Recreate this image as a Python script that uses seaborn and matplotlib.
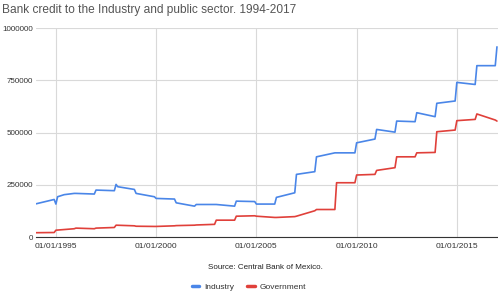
import pandas as pd
import numpy as np
import matplotlib
matplotlib.use('Agg')
import matplotlib.pyplot as plt
from matplotlib.lines import Line2D
from matplotlib.ticker import FixedLocator, FuncFormatter
import seaborn as sns

# Values (pesos, millions); monthly points where the line bends
industry_dates = ['1994-01', '1994-12', '1995-01', '1995-02', '1995-06', '1995-12',
                  '1996-01', '1996-12', '1997-01', '1997-12', '1998-01', '1998-02', '1998-12',
                  '1999-01', '1999-12', '2000-01', '2000-12', '2001-01', '2001-12',
                  '2002-01', '2002-12', '2003-01', '2003-12', '2004-01', '2004-12',
                  '2005-01', '2005-12', '2006-01', '2006-12', '2007-01', '2007-12',
                  '2008-01', '2008-12', '2009-01', '2009-12', '2010-01', '2010-12',
                  '2011-01', '2011-12', '2012-01', '2012-12', '2013-01', '2013-12',
                  '2014-01', '2014-12', '2015-01', '2015-12', '2016-01', '2016-12', '2017-01']
industry = [159000, 180000, 158000, 193000, 203000, 209000,
            209000, 206000, 225000, 222000, 252000, 241000, 228000,
            209000, 193000, 185000, 182000, 164000, 148000,
            156000, 156000, 156000, 148000, 172000, 170000,
            158000, 158000, 190000, 212000, 300000, 313000,
            384000, 403000, 403000, 403000, 451000, 469000,
            515000, 502000, 555000, 552000, 595000, 576000,
            640000, 651000, 740000, 730000, 820000, 820000, 910000]

gov_dates = ['1994-01', '1994-12', '1995-01', '1995-12', '1996-01', '1996-12',
             '1997-01', '1997-12', '1998-01', '1998-12', '1999-01', '1999-12',
             '2000-01', '2000-12', '2001-01', '2001-12', '2002-01', '2002-12',
             '2003-01', '2003-12', '2004-01', '2004-12', '2005-01', '2005-12',
             '2006-01', '2006-12', '2007-01', '2007-12', '2008-01', '2008-12',
             '2009-01', '2009-12', '2010-01', '2010-12', '2011-01', '2011-12',
             '2012-01', '2012-12', '2013-01', '2013-12', '2014-01', '2014-12',
             '2015-01', '2015-12', '2016-01', '2016-12', '2017-01']
government = [21000, 22000, 33000, 40000, 43000, 40000,
              43000, 46000, 57000, 54000, 52000, 51000,
              51000, 54000, 55000, 57000, 58000, 61000,
              81000, 81000, 100000, 102000, 100000, 94000,
              94000, 98000, 100000, 126000, 132000, 132000,
              260000, 260000, 297000, 300000, 319000, 332000,
              384000, 384000, 403000, 405000, 504000, 512000,
              557000, 563000, 589000, 560000, 555000]

series_names = ['Industry', 'Government']
colors = ['#4a86e8', '#e0403a']

df = pd.concat([
    pd.DataFrame({'date': pd.to_datetime(industry_dates), 'value': industry, 'series': 'Industry'}),
    pd.DataFrame({'date': pd.to_datetime(gov_dates), 'value': government, 'series': 'Government'}),
], ignore_index=True)

sns.set_style('white')
plt.rcParams['font.family'] = ['Liberation Sans', 'DejaVu Sans']

fig = plt.figure(figsize=(4.98, 2.92), dpi=100)
ax = fig.add_axes([0.072, 0.188, 0.928, 0.716])

sns.lineplot(data=df, x='date', y='value', hue='series', hue_order=series_names,
             palette=colors, linewidth=1.2, legend=False, ax=ax)

ax.set_xlim(pd.Timestamp('1994-01-01'), pd.Timestamp('2017-01-20'))
ax.set_ylim(0, 1000000)
ax.yaxis.set_major_locator(FixedLocator([0, 250000, 500000, 750000, 1000000]))
ax.yaxis.set_major_formatter(FuncFormatter(lambda v, p: f'{int(v)}'))
xt = [pd.Timestamp(f'{y}-01-01') for y in [1995, 2000, 2005, 2010, 2015]]
ax.set_xticks(xt)
ax.set_xticklabels([t.strftime('%d/%m/%Y') for t in xt])

ax.grid(True, color='#d9d9d9', linewidth=0.8)
ax.set_axisbelow(True)
for s in ['top', 'right', 'left']:
    ax.spines[s].set_visible(False)
ax.spines['bottom'].set_color('#333333')
ax.spines['bottom'].set_linewidth(0.8)
ax.tick_params(axis='both', length=0, colors='#333333', labelsize=6)
ax.tick_params(axis='y', pad=2, labelsize=5.8)
ax.tick_params(axis='x', pad=4)
ax.set_xlabel('')
ax.set_ylabel('')

fig.text(0.004, 0.965, 'Bank credit to the Industry and public sector. 1994-2017',
         fontsize=8.6, color='#555555', ha='left', va='center')
fig.text(0.534, 0.085, 'Source: Central Bank of Mexico.', fontsize=5.8,
         color='#222222', ha='center', va='center')

handles = [Line2D([0], [0], color=c, linewidth=2.5) for c in colors]
fig.legend(handles, series_names, loc='center', bbox_to_anchor=(0.5, 0.018),
           ncol=2, frameon=False, fontsize=6, handlelength=0.9,
           columnspacing=1.6, handletextpad=0.6, labelcolor='#333333')

fig.savefig('out.png', dpi=100)
